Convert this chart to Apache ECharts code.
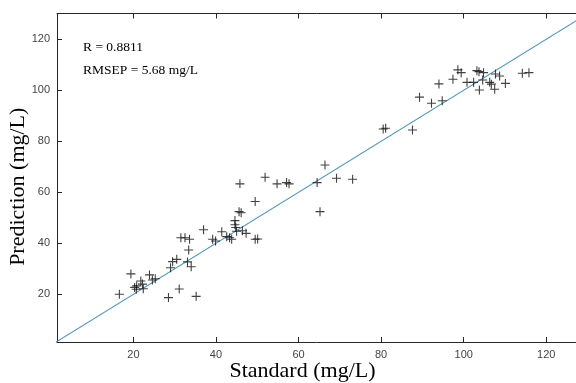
<!DOCTYPE html>
<html><head><meta charset="utf-8">
<script src="https://cdn.jsdelivr.net/npm/echarts@6/dist/echarts.min.js"></script>
<style>html,body{margin:0;padding:0;background:#fff}#c{width:576px;height:383px}</style>
</head><body><div id="c"></div>
<script>
var points = [
[16.6,20.0],[19.4,28.0],[20.3,22.7],[20.8,23.3],[20.7,22.0],[21.8,25.2],[22.2,24.0],[22.4,22.2],
[23.9,27.6],[24.6,25.6],[25.3,26.1],[28.5,18.7],[31.1,22.1],[35.2,19.2],[29.0,30.4],[29.5,32.8],
[30.5,33.7],[33.1,32.7],[34.0,30.8],[33.4,37.4],[31.5,42.2],[32.5,42.2],[33.6,41.6],[37.0,45.3],
[39.2,41.6],[39.9,40.9],[41.4,44.5],[42.6,42.6],[43.3,42.2],[43.8,41.6],[44.6,48.9],[44.6,47.3],
[44.8,46.2],[45.0,44.7],[46.4,44.9],[47.3,43.9],[45.6,52.4],[46.1,52.0],[49.5,56.4],[49.5,41.6],
[50.1,41.7],[45.8,63.3],[51.9,65.9],[54.8,63.3],[57.1,63.8],[57.7,63.3],[64.5,63.8],[66.4,70.7],
[69.2,65.5],[73.1,65.1],[65.2,52.4],
[80.5,84.8],[81.1,85.1],[87.6,84.4],[89.3,97.3],[92.2,94.9],[94.8,95.9],[94.0,102.5],[97.4,104.3],
[98.6,108.0],[99.4,106.9],[100.8,103.1],[102.4,103.1],[103.2,107.7],[103.7,107.3],[103.8,100.1],
[104.8,106.9],[104.6,104.0],[106.3,103.1],[106.7,102.4],[107.5,100.4],[107.7,106.4],[108.7,105.6],
[110.1,102.7],[114.2,106.7],[115.8,106.9]
];
var fitLine = [[0,0],[140,140]];
var xTicks = [20,40,60,80,100,120];
var yTicks = [20,40,60,80,100,120];
var xName = 'Standard (mg/L)';
var yName = 'Prediction (mg/L)';
var statR = 'R = 0.8811';
var statRMSEP = 'RMSEP = 5.68 mg/L';

var chart = echarts.init(document.getElementById('c'));
var lblStyle = {color:'#444', fontFamily:'Liberation Sans, Arial, sans-serif', fontSize:11};
var serif = 'Liberation Serif, Times New Roman, serif';
chart.setOption({
  animation:false,
  grid:{left:57, right:0, top:13.5, bottom:41, containLabel:false, outerBoundsMode:'none'},
  xAxis:[{
    type:'value', min:1.5, max:127.2,
    axisLine:{show:true, onZero:false, lineStyle:{color:'#262626', width:1}},
    axisTick:{show:true, inside:true, length:5, customValues:xTicks, lineStyle:{color:'#262626'}},
    axisLabel:Object.assign({customValues:xTicks, margin:7}, lblStyle),
    splitLine:{show:false},
    name:xName, nameLocation:'middle', nameGap:18, nameMoveOverlap:false,
    nameTextStyle:{fontFamily:serif, fontSize:22, color:'#000', padding:[0,28,0,0]}
  },{
    type:'value', position:'top', min:1.5, max:127.2,
    axisLine:{show:true, onZero:false, lineStyle:{color:'#262626', width:1}},
    axisTick:{show:true, inside:true, length:5, customValues:xTicks, lineStyle:{color:'#262626'}},
    axisLabel:{show:false}, splitLine:{show:false}
  }],
  yAxis:[{
    type:'value', min:1.3, max:130.1,
    axisLine:{show:true, onZero:false, lineStyle:{color:'#262626', width:1}},
    axisTick:{show:true, inside:true, length:5, customValues:yTicks, lineStyle:{color:'#262626'}},
    axisLabel:Object.assign({customValues:yTicks, margin:7}, lblStyle),
    splitLine:{show:false},
    name:yName, nameLocation:'middle', nameGap:28, nameRotate:90, nameMoveOverlap:false,
    nameTextStyle:{fontFamily:serif, fontSize:22, color:'#000', padding:[0,18,0,0]}
  }],
  graphic:[
    {type:'text', left:83, top:40, style:{text:statR, font:'13.5px "Liberation Serif", "Times New Roman", serif', fill:'#000'}},
    {type:'text', left:83, top:63, style:{text:statRMSEP, font:'13.5px "Liberation Serif", "Times New Roman", serif', fill:'#000'}}
  ],
  series:[
    {type:'line', data:fitLine, symbol:'none', clip:true, lineStyle:{color:'#4f97b8', width:1.2}, z:1, silent:true},
    {type:'scatter', data:points, symbol:'path://M0,5L10,5M5,0L5,10', symbolSize:9,
     itemStyle:{color:'rgba(0,0,0,0)', borderColor:'#111', borderWidth:1.1}, z:3}
  ]
});
</script></body></html>
